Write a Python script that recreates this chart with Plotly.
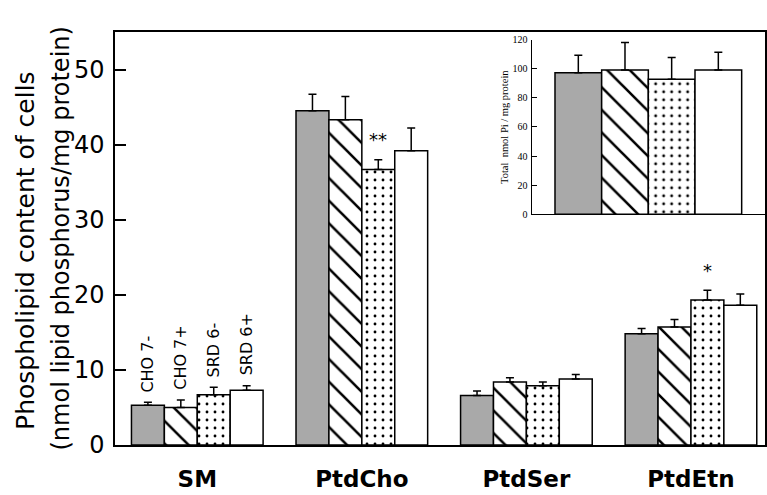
import plotly.graph_objects as go

# ---------------- data ----------------
groups = ["SM", "PtdCho", "PtdSer", "PtdEtn"]
series = ["CHO 7-", "CHO 7+", "SRD 6-", "SRD 6+"]

cho7_minus = [5.3, 44.5, 6.6, 14.8]
cho7_minus_err = [0.4, 2.2, 0.6, 0.7]
cho7_plus = [5.0, 43.3, 8.4, 15.7]
cho7_plus_err = [1.0, 3.1, 0.55, 1.0]
srd6_minus = [6.7, 36.7, 7.9, 19.3]
srd6_minus_err = [1.0, 1.3, 0.5, 1.3]
srd6_plus = [7.3, 39.2, 8.8, 18.6]
srd6_plus_err = [0.6, 3.0, 0.6, 1.5]

total_pi = [97.4, 99.3, 92.9, 99.3]
total_pi_err = [12.0, 18.8, 15.0, 12.2]

y_ticks = [0, 10, 20, 30, 40, 50]
inset_ticks = [0, 20, 40, 60, 80, 100, 120]

# significance marks: (group index, series index, text)
signif = [(1, 2, "**"), (3, 2, "*")]

# ---------------- styles ----------------
vals = [cho7_minus, cho7_plus, srd6_minus, srd6_plus]
errs = [cho7_minus_err, cho7_plus_err, srd6_minus_err, srd6_plus_err]
fills = ["#a9a9a9", "white", "white", "white"]
shapes = ["", "\\", ".", ""]
psizes = [8, 16, 8, 8]
psolid = [0.2, 0.16, 0.1, 0.2]

xpos = list(range(len(groups)))
n = len(series)
bargap = 0.2
bw = (1 - bargap) / n
offsets = [(-(n - 1) / 2 + k) * bw for k in range(n)]


def marker_for(k):
    return dict(color=fills[k], line=dict(color="black", width=1.5),
                pattern=dict(shape=shapes[k], fgcolor="black", bgcolor=fills[k],
                             size=psizes[k], solidity=psolid[k], fillmode="replace"))


fig = go.Figure()
for k in range(n):
    fig.add_trace(go.Bar(
        x=xpos, y=vals[k], name=series[k], showlegend=False,
        marker=marker_for(k),
        error_y=dict(type="data", array=errs[k], arrayminus=[0] * len(groups),
                     symmetric=False, color="black", thickness=1.5, width=4),
        xaxis="x", yaxis="y",
    ))

# inset: total phospholipid, one bar per cell line
for k in range(n):
    fig.add_trace(go.Bar(
        x=[k], y=[total_pi[k]], width=1, offset=-0.5, showlegend=False,
        name=series[k], marker=marker_for(k),
        error_y=dict(type="data", array=[total_pi_err[k]], arrayminus=[0],
                     symmetric=False, color="black", thickness=1.5, width=4),
        xaxis="x2", yaxis="y2",
    ))

annotations = []
# series labels above SM bars
for k in range(n):
    annotations.append(dict(
        x=xpos[0] + offsets[k], y=vals[k][0] + errs[k][0], xref="x", yref="y",
        text=series[k], textangle=-90, showarrow=False, xanchor="center",
        yanchor="bottom", yshift=8,
        font=dict(family="DejaVu Sans", size=16, color="black")))
# significance marks
for g, k, t in signif:
    annotations.append(dict(
        x=xpos[g] + offsets[k], y=vals[k][g] + errs[k][g], xref="x", yref="y",
        text=t, showarrow=False, xanchor="center", yanchor="middle", yshift=20,
        font=dict(family="DejaVu Sans", size=18, color="black")))
# y-axis title (two lines)
annotations.append(dict(
    x=0, y=0.47, xref="paper", yref="paper", xshift=-89,
    text="Phospholipid content of cells", textangle=-90, showarrow=False,
    xanchor="center", yanchor="middle",
    font=dict(family="DejaVu Sans", size=25, color="black")))
annotations.append(dict(
    x=0, y=0.5, xref="paper", yref="paper", xshift=-55,
    text="(nmol lipid phosphorus/mg protein)", textangle=-90, showarrow=False,
    xanchor="center", yanchor="middle",
    font=dict(family="DejaVu Sans", size=24, color="black")))
# inset y title
annotations.append(dict(
    x=0.6, y=0.77, xref="paper", yref="paper",
    text="Total  nmol Pi / mg protein", textangle=-90, showarrow=False,
    xanchor="center", yanchor="middle",
    font=dict(family="Liberation Serif", size=10.5, color="black")))

fig.update_layout(
    width=767, height=495,
    margin=dict(l=115, r=2, t=32, b=50, autoexpand=False),
    paper_bgcolor="white", plot_bgcolor="white",
    barmode="group", bargap=bargap, bargroupgap=0,
    annotations=annotations,
    xaxis=dict(range=[-0.5, 3.45], tickvals=xpos, ticktext=groups, automargin=False,
               showline=True, mirror=True, linecolor="black", linewidth=1.5,
               ticks="", showgrid=False, zeroline=False, ticklabelstandoff=13,
               tickfont=dict(family="DejaVu Sans", size=23, color="black", weight="bold")),
    yaxis=dict(range=[0, 55], tickvals=y_ticks, ticks="inside", ticklen=11,
               tickwidth=1.5, tickcolor="black", automargin=False,
               showline=True, mirror=True, linecolor="black", linewidth=1.5,
               showgrid=False, zeroline=False, ticklabelstandoff=4,
               tickfont=dict(family="DejaVu Sans", size=24, color="black")),
    xaxis2=dict(domain=[0.641, 1.0], anchor="y2", range=[-1, 4], automargin=False,
                showticklabels=False, ticks="", showline=True, linecolor="black",
                linewidth=1.3, showgrid=False, zeroline=False),
    yaxis2=dict(domain=[0.559, 0.981], anchor="x2", range=[0, 120], automargin=False,
                tickvals=inset_ticks, ticks="inside", ticklen=5, tickwidth=1,
                tickcolor="black", showline=True, linecolor="black", linewidth=1.3,
                showgrid=False, zeroline=False, ticklabelstandoff=1,
                tickfont=dict(family="Liberation Serif", size=10, color="black")),
)

fig.write_html("out.html")
